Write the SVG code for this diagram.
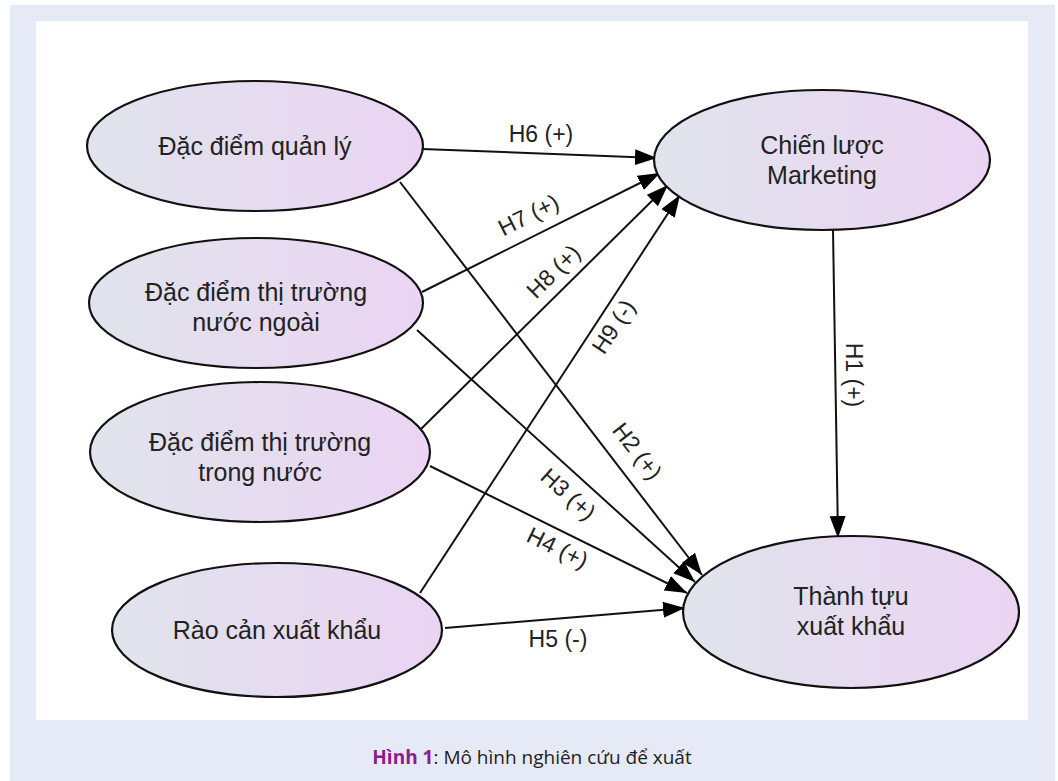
<svg xmlns="http://www.w3.org/2000/svg" width="1058" height="781" viewBox="0 0 1058 781">
<defs>
<linearGradient id="g" x1="0" y1="0" x2="1" y2="0">
<stop offset="0" stop-color="#e0e4ec"/>
<stop offset="1" stop-color="#ebd4f3"/>
</linearGradient>
<marker id="arr" markerUnits="userSpaceOnUse" markerWidth="24" markerHeight="18" refX="22" refY="8" orient="auto">
<path d="M0,0 L22,8 L0,16 Z" fill="#000"/>
</marker>
</defs>
<style>
.n ellipse{fill:url(#g);stroke:#111;stroke-width:2.2}
.n text{font-family:"Liberation Sans",Arial,sans-serif;font-size:25px;fill:#222;text-anchor:middle}
.e line{stroke:#111;stroke-width:2;marker-end:url(#arr)}
.l{font-family:"Liberation Sans",Arial,sans-serif;font-size:23px;fill:#222;text-anchor:middle}
.cap{font-family:"Open Sans","Noto Sans",sans-serif;font-size:19px;fill:#222;text-anchor:middle}
</style>
<rect x="10" y="5" width="1045" height="776" fill="#e6eaf6"/>
<rect x="36" y="21" width="992" height="699" fill="#fff"/>

<g id="connectors" class="e">
<line x1="422" y1="149" x2="657" y2="158"/>
<line x1="422" y1="292" x2="660" y2="173"/>
<line x1="420" y1="430" x2="668" y2="185"/>
<line x1="420" y1="593" x2="680" y2="195"/>
<line x1="833" y1="230" x2="838" y2="538"/>
<line x1="400" y1="182" x2="702" y2="575"/>
<line x1="417" y1="330" x2="695" y2="582"/>
<line x1="430" y1="466" x2="687" y2="593"/>
<line x1="445" y1="628" x2="685" y2="608"/>
</g>

<g id="labels">
<text class="l" x="541" y="142">H6 (+)</text>
<text class="l" transform="translate(532,222) rotate(-26.6)">H7 (+)</text>
<text class="l" transform="translate(559,277) rotate(-44.7)">H8 (+)</text>
<text class="l" transform="translate(620,331) rotate(-56.8)">H9 (-)</text>
<text class="l" transform="translate(631,456) rotate(52.5)">H2 (+)</text>
<text class="l" transform="translate(563,500) rotate(42)">H3 (+)</text>
<text class="l" transform="translate(554,555) rotate(26)">H4 (+)</text>
<text class="l" x="558" y="647">H5 (-)</text>
<text class="l" transform="translate(846,375) rotate(90)">H1 (+)</text>
</g>

<g id="n1" class="n"><ellipse cx="255" cy="146" rx="168" ry="65"/><text x="255" y="155">Đặc điểm quản lý</text></g>
<g id="n2" class="n"><ellipse cx="256" cy="303" rx="167" ry="65"/><text x="256" y="301">Đặc điểm thị trường</text><text x="256" y="331">nước ngoài</text></g>
<g id="n3" class="n"><ellipse cx="260" cy="452" rx="170" ry="70"/><text x="260" y="451">Đặc điểm thị trường</text><text x="260" y="481">trong nước</text></g>
<g id="n4" class="n"><ellipse cx="277" cy="630" rx="165" ry="67"/><text x="277" y="639">Rào cản xuất khẩu</text></g>
<g id="n5" class="n"><ellipse cx="822" cy="160" rx="168" ry="70"/><text x="822" y="154">Chiến lược</text><text x="822" y="184">Marketing</text></g>
<g id="n6" class="n"><ellipse cx="851" cy="612" rx="168" ry="76"/><text x="851" y="605">Thành tựu</text><text x="851" y="635">xuất khẩu</text></g>

<text class="cap" x="532" y="764"><tspan font-weight="bold" fill="#8e1a8e">Hình 1</tspan>: Mô hình nghiên cứu để xuất</text>
</svg>
